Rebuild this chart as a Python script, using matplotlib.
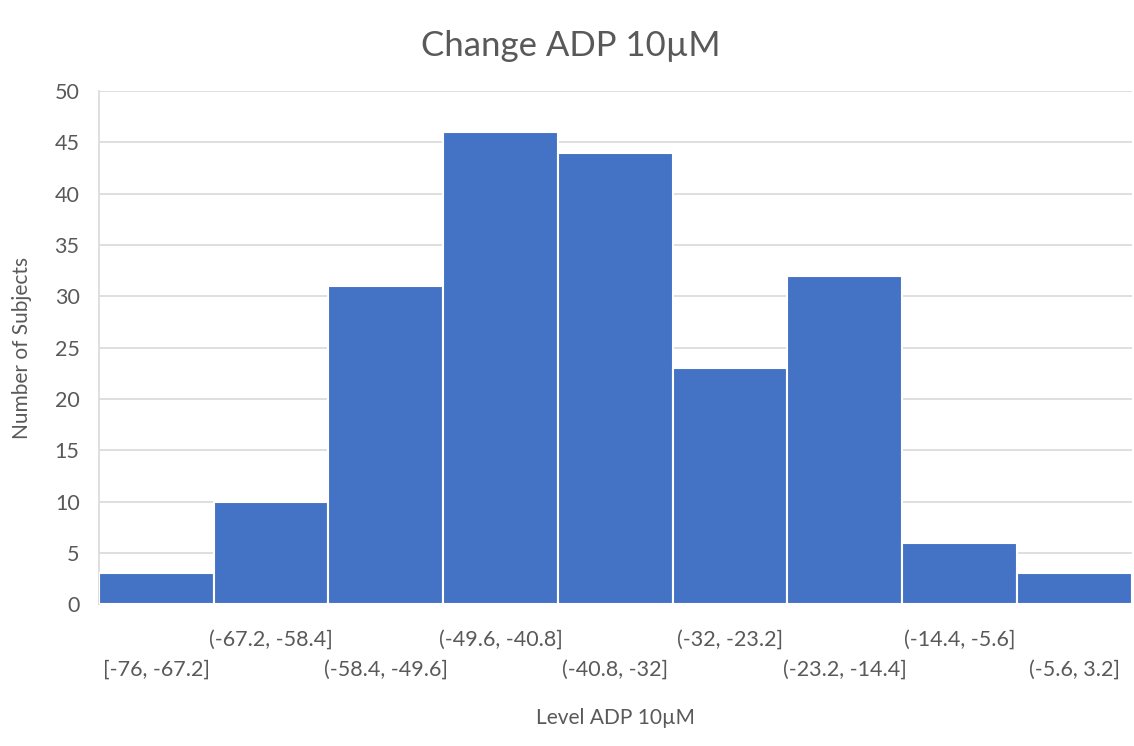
import matplotlib
matplotlib.use("Agg")
import matplotlib.pyplot as plt

plt.rcParams['font.family'] = ['Lato', 'DejaVu Sans']

# histogram bins and counts
bins = ["[-76, -67.2]", "(-67.2, -58.4]", "(-58.4, -49.6]", "(-49.6, -40.8]",
        "(-40.8, -32]", "(-32, -23.2]", "(-23.2, -14.4]", "(-14.4, -5.6]",
        "(-5.6, 3.2]"]
counts = [3, 10, 31, 46, 44, 23, 32, 6, 3]

text_col = "#595959"
grid_col = "#D9D9D9"

fig = plt.figure(figsize=(11.34, 7.46), dpi=100)
ax = fig.add_axes([0.0873, 0.19, 0.9107, 0.688])

pos = list(range(len(bins)))
ax.bar(pos, counts, width=1.0, color="#4472C4", edgecolor="white",
       linewidth=1.5, zorder=3)

ax.set_xlim(-0.5, len(bins) - 0.5)
ax.set_ylim(0, 50)
ax.set_yticks(range(0, 51, 5))
ax.grid(axis="y", color=grid_col, linewidth=1.2, zorder=0)

ax.set_xticks(pos, bins)
for i, t in enumerate(ax.xaxis.get_major_ticks()):
    t.set_pad(40 if i % 2 == 0 else 18)

ax.tick_params(axis="both", length=0, labelsize=15.5, labelcolor=text_col)
ax.tick_params(axis="y", pad=14)

for s in ["top", "right", "bottom"]:
    ax.spines[s].set_visible(False)
ax.spines["left"].set_color(grid_col)
ax.spines["left"].set_linewidth(1.2)

fig.suptitle("Change ADP 10µM", fontsize=25, color=text_col, x=0.503, y=0.96)
ax.set_xlabel("Level ADP 10µM", fontsize=15, color=text_col, labelpad=20)
ax.set_ylabel("Number of Subjects", fontsize=15, color=text_col, labelpad=16)

fig.savefig("out.png", dpi=100)
